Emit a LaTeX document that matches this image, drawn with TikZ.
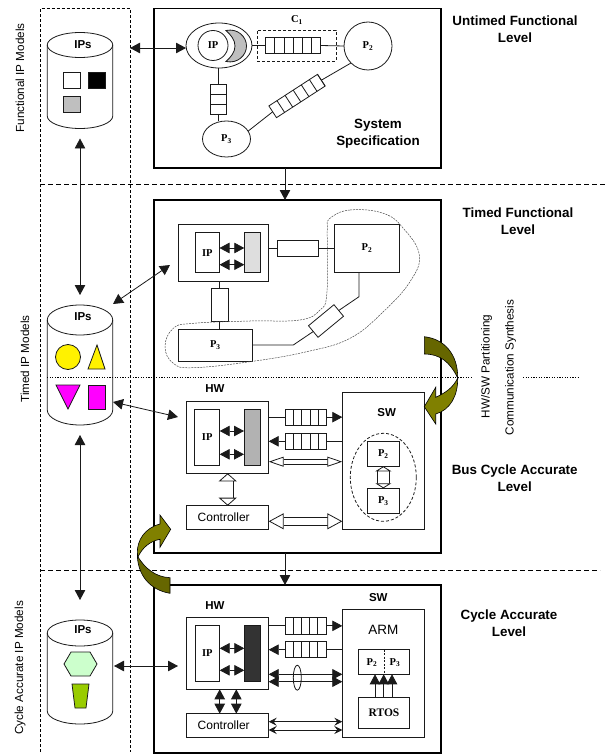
\documentclass[tikz,border=0pt]{standalone}
\usepackage{fontspec}
\setmainfont{Liberation Sans}
\newfontfamily\ipserif{Liberation Serif}
\usepackage{xcolor}
\usetikzlibrary{arrows.meta,positioning,fit,calc,shapes.geometric}
\definecolor{ink}{HTML}{1A1A1A}
\definecolor{oliveA}{HTML}{666600}
\definecolor{oliveB}{HTML}{808000}
\definecolor{hexgreen}{HTML}{CCFFCC}
\definecolor{trapgreen}{HTML}{99CC00}
\definecolor{mag}{HTML}{FF00FF}
\newcommand{\pname}[2]{{\ipserif\bfseries #1\textsubscript{#2}}}
% n-cell queue inside a node that already exists
\newcommand{\cells}[2]{\foreach \k in {1,...,#2}
  \draw[thinline] ($(#1.south west)!\k/#2!(#1.south east)$) -- ($(#1.north west)!\k/#2!(#1.north east)$);}
% library drum: name, top of body, bottom of body, half height of the ends
\newcommand{\drum}[4]{
  \node[thinline,shape=ellipse,inner sep=0pt,outer sep=0pt,minimum width=65.5pt,minimum height=#4*2pt] (#1) at (80,#2) {};
  \coordinate (#1base) at (80,#3+#4);
  \draw[thinline] (#1.west) -- (47.25,#3) arc[start angle=180,end angle=360,x radius=32.75pt,y radius=#4 pt] -- (#1.east);}
\tikzset{
  thinline/.style={draw=ink,line width=0.8pt},
  blk/.style={thinline,inner sep=0pt,outer sep=0pt},
  txt/.style={font=\ipserif\bfseries\fontsize{10.5}{12}\selectfont},
  lab/.style={label={[txt]center:#1}},
  ctl/.style={label={[font=\fontsize{12}{14}\selectfont,xshift=-4pt]center:#1}},
  level/.style={draw=black,line width=1.5pt,inner sep=0pt,outer sep=0pt},
  lbl/.style={font=\bfseries\fontsize{11.5}{14}\selectfont,align=center},
  lvlname/.style={font=\bfseries\fontsize{13.4}{16.7}\selectfont,align=center},
  vlbl/.style={font=\fontsize{11.7}{13}\selectfont,rotate=90},
  colline/.style={line width=0.8pt,dash pattern=on 3pt off 2pt},
  divline/.style={line width=0.7pt,dash pattern=on 5pt off 3pt},
  dotline/.style={line width=0.7pt,dash pattern=on 1.2pt off 1.4pt},
  hollow/.style={draw=ink,line width=0.8pt,double=white,double distance=#1},
  curl/.style={draw=black,line width=0.6pt},
}
\begin{document}
\begin{tikzpicture}[x=1pt,y=-1pt,>={Triangle[length=10pt,width=10.5pt]}]
  \useasboundingbox (0,0) rectangle (606,754);

  % IP model columns
  \draw[colline] (40,752) -- (40,8.5) -- (130,8.5) -- (130,752);
  \draw[divline] (40,184) -- (606,184);
  \draw[divline] (40,570) -- (600,570);

  % libraries
  \drum{ipsA}{45}{116}{12.5}
  \drum{ipsB}{320}{410}{15}
  \drum{ipsC}{633}{711}{13}
  \node[lbl] (ipsAt) at (83,45) {IPs};
  \node[lbl] (ipsBt) at (83,317) {IPs};
  \node[lbl] (ipsCt) at (83,630) {IPs};
  \draw[<->,thinline,shorten <=10pt,shorten >=10pt] (ipsAbase) -- (ipsB.north);
  \draw[<->,thinline,shorten <=10pt,shorten >=20pt] (ipsBbase) -- (ipsC.north);

  \node[blk,fit={(63.5,72) (80,88.5)}] (sqW) {};
  \node[blk,fill=black,fit={(88,72) (105,88.5)}] (sqK) {};
  \node[blk,fill=black!25,fit={(63.5,96) (80,112)}] (sqG) {};
  \node[blk,fill=yellow,shape=circle,minimum size=25pt] (cirY) at (68,357) {};
  \draw[thinline,fill=yellow] (97,345) -- (105,369) -- (88,369) -- cycle;
  \draw[thinline,fill=mag] (56,385) -- (80,385) -- (68,409) -- cycle;
  \node[blk,fill=mag,fit={(88,385) (105,409)}] (recM) {};
  \draw[thinline,fill=hexgreen] (64,664) -- (71,652) -- (90,652) -- (97,664) -- (90,676) -- (71,676) -- cycle;
  \draw[thinline,fill=trapgreen] (72,684) -- (89,684) -- (86,708) -- (75,708) -- cycle;

  % level boxes
  \node[level,fit={(154,8.5) (441,168)}] (lvlA) {};
  \node[level,fit={(154,200) (441,553)}] (lvlB) {};
  \node[level,fit={(154,585) (441,753)}] (lvlC) {};
  \draw[->,thinline] (lvlA.south -| 285,0) -- (lvlB.north -| 285,0);
  \draw[->,thinline] (lvlB.south -| 285,0) -- (lvlC.north -| 285,0);

  % system specification
  \node[thinline,shape=ellipse,inner sep=0pt,outer sep=0pt,minimum width=66pt,minimum height=45pt] (spIPo) at (219,45.5) {};
  \draw[thinline,fill=black!25] (226,30.5) .. controls (238,28) and (246.5,37) .. (246.5,46)
    .. controls (246.5,55) and (238,64) .. (226,61.5) .. controls (231,57) and (235,52) .. (235,46)
    .. controls (235,40) and (231,35) .. (226,30.5) -- cycle;
  \node[blk,shape=circle,fill=white,minimum size=30pt,lab=IP] (spIP) at (213,45.5) {};
  \node[blk,shape=circle,minimum size=48pt,lab={\pname{P}{2}}] (spP2) at (368,46) {};
  \node[blk,shape=ellipse,minimum width=48pt,minimum height=36pt,lab={\pname{P}{3}}] (spP3) at (226.5,139) {};
  \node[blk,minimum width=55pt,minimum height=15.5pt] (spQa) at (293.2,45.5) {};
  \cells{spQa}{6}
  \node[blk,rotate=90,minimum width=30pt,minimum height=16pt] (spQb) at (218,99) {};
  \cells{spQb}{3}
  \node[blk,rotate=33,minimum width=58pt,minimum height=14pt] (spQc) at (297,96) {};
  \cells{spQc}{6}
  \node[thinline,dash pattern=on 3pt off 2pt,inner sep=0pt,fit={(257,30) (336,61)}] (spC) {};
  \node[txt] (spCt) at (297,20) {C\textsubscript{1}};
  \draw[thinline] (spIPo.east) -- (spQa.west);
  \draw[thinline] (spQa.east) -- (spP2.west);
  \draw[thinline] (spIPo.south -| spQb.center) -- (spQb.east);
  \draw[thinline] (spQb.west) -- (spP3.north -| spQb.center);
  \draw[thinline] (spP2.225) -- (spQc.east);
  \draw[thinline] (spQc.west) -- (spP3.20);
  \node[lvlname] (spT) at (378,134) {System\\Specification};
  \coordinate (spFrom) at (130,48);
  \coordinate (spTo) at (186,48);
  \draw[<->,thinline] (spFrom) -- (spTo);

  % timed functional
  \node[blk,fit={(178.3,224) (268.7,281)}] (tfMod) {};
  \node[blk,lab=IP,fit={(195,232.7) (219.5,272.7)}] (tfIP) {};
  \node[blk,fill=black!13,fit={(244.3,232.7) (260.3,272.7)}] (tfReg) {};
  \draw[<->,thinline] (tfIP.east |- 0,248) -- (tfReg.west |- 0,248);
  \draw[<->,thinline] (tfIP.east |- 0,264.7) -- (tfReg.west |- 0,264.7);
  \node[blk,fit={(277,240.7) (318,256.7)}] (tfChA) {};
  \node[blk,lab={\pname{P}{2}},fit={(334.3,224) (399.7,272.7)}] (tfP2) {};
  \node[blk,lab={\pname{P}{3}},fit={(178.3,329) (252.3,361)}] (tfP3) {};
  \node[blk,fit={(211.3,288.7) (228,321)}] (tfChB) {};
  \node[blk,rotate=39.5,minimum width=33pt,minimum height=15pt] (tfChC) at (326,321) {};
  \draw[thinline] (tfMod.east |- tfChA.west) -- (tfChA.west);
  \draw[thinline] (tfChA.east) -- (tfP2.west |- tfChA.east);
  \draw[thinline] (tfMod.south -| tfChB.center) -- (tfChB.north);
  \draw[thinline] (tfChB.south) -- (tfP3.north -| tfChB.south);
  \coordinate (tfBendA) at (293.3,345);
  \coordinate (tfBendB) at (359,296.7);
  \draw[thinline] (tfP3.east) -- (tfBendA) -- (tfChC.west);
  \draw[thinline] (tfChC.east) -- (tfBendB) -- (tfBendB |- tfP2.south);
  \draw[line width=0.5pt,draw=black!70,dash pattern=on 2pt off 1pt] plot[smooth cycle,tension=0.7] coordinates {
    (330,218.3) (350,210) (383.3,213.3) (403.3,228.3) (419.3,255) (410,281.7) (383.3,311.7)
    (350,338.3) (306.7,351.7) (250,361.7) (193.3,367.7) (173.3,363.3) (165,346.7) (173.3,328.3)
    (193.3,323.3) (250,321) (300,320) (320,310) (326.7,295) (327.3,245) (327.3,228.3)};
  \coordinate (tfFrom) at (113,304);
  \coordinate (tfTo) at (170,265);
  \draw[<->,thinline] (tfFrom) -- (tfTo);

  % bus cycle accurate
  \node[lbl] (busHW) at (215,389) {HW};
  \node[blk,fit={(186.7,401) (268.7,473.3)}] (busMod) {};
  \node[blk,lab=IP,fit={(194.7,409) (219.7,465.7)}] (busIP) {};
  \node[blk,fill=black!30,fit={(244,409) (260.7,465.7)}] (busReg) {};
  \draw[<->,thinline] (busIP.east |- 0,431) -- (busReg.west |- 0,431);
  \draw[<->,thinline] (busIP.east |- 0,454.3) -- (busReg.west |- 0,454.3);
  \node[blk,fit={(342.3,392.7) (424.3,529.3)}] (busSW) {};
  \node[lbl] (busSWt) at (386.7,412.7) {SW};
  \node[blk,fit={(285,409) (326.7,425.3)}] (busQa) {};
  \cells{busQa}{5}
  \node[blk,fit={(285,433.3) (326.7,449.3)}] (busQb) {};
  \cells{busQb}{5}
  \draw[thinline] (busMod.east |- busQa.west) -- (busQa.west);
  \draw[->,thinline] (busQa.east) -- (busSW.west |- busQa.east);
  \draw[thinline] (busSW.west |- busQb.east) -- (busQb.east);
  \draw[->,thinline] (busQb.west) -- (busMod.east |- busQb.west);
  \node[thinline,dash pattern=on 3pt off 2pt,shape=ellipse,inner sep=0pt,minimum width=66pt,minimum height=88pt] (busGrp) at (383.3,477.3) {};
  \node[blk,lab={\pname{P}{2}},fit={(367,441.3) (399.7,466.3)}] (busP2) {};
  \node[blk,lab={\pname{P}{3}},fit={(367,488.3) (399.7,513.3)}] (busP3) {};
  \node[blk,ctl=Controller,fit={(186.7,505.7) (268.7,529.3)}] (busCtl) {};
  \draw[hollow=4pt,{Triangle[fill=white,line width=.8pt,length=15pt,width=10pt]}-{Triangle[fill=white,line width=.8pt,length=15pt,width=10pt]}]
    (busMod.east |- 0,461.7) -- (busSW.west |- 0,461.7);
  \draw[hollow=7pt,{Triangle[fill=white,line width=.8pt,length=15pt,width=16pt]}-{Triangle[fill=white,line width=.8pt,length=15pt,width=16pt]}]
    (busCtl.east |- 0,521.3) -- (busSW.west |- 0,521.3);
  \draw[hollow=10.5pt,{Triangle[fill=white,line width=.8pt,length=8pt,width=18pt]}-{Triangle[fill=white,line width=.8pt,length=8pt,width=18pt]}]
    (busMod.south -| 227.7,0) -- (busCtl.north -| 227.7,0);
  \draw[hollow=11.5pt,{Triangle[fill=white,line width=.8pt,length=5pt,width=16pt]}-{Triangle[fill=white,line width=.8pt,length=5pt,width=16pt]}]
    (busP2.south) -- (busP3.north);
  \coordinate (busFrom) at (113,402);
  \coordinate (busTo) at (178,417);
  \draw[<->,thinline] (busFrom) -- (busTo);

  % cycle accurate
  \node[lbl] (caHW) at (215,605.7) {HW};
  \node[blk,fit={(186.7,617.3) (268.7,689.3)}] (caMod) {};
  \node[blk,lab=IP,fit={(195,625.3) (219.7,681.7)}] (caIP) {};
  \node[blk,fill=black!80,fit={(244.3,625.3) (260.7,681.7)}] (caReg) {};
  \draw[<->,thinline] (caIP.east |- 0,648.3) -- (caReg.west |- 0,648.3);
  \draw[<->,thinline] (caIP.east |- 0,670.3) -- (caReg.west |- 0,670.3);
  \node[blk,fit={(342.3,609.3) (424.3,737.7)}] (caSW) {};
  \node[lbl] (caSWt) at (378.3,597.7) {SW};
  \node[font=\fontsize{13.5}{15}\selectfont] (caARM) at (383.3,630) {ARM};
  \node[blk,fit={(285,617.7) (326,634)}] (caQa) {};
  \cells{caQa}{5}
  \node[blk,fit={(285,641.7) (326,657.7)}] (caQb) {};
  \cells{caQb}{5}
  \draw[thinline] (caMod.east |- caQa.west) -- (caQa.west);
  \draw[->,thinline] (caQa.east) -- (caSW.west |- caQa.east);
  \draw[thinline] (caSW.west |- caQb.east) -- (caQb.east);
  \draw[->,thinline] (caQb.west) -- (caMod.east |- caQb.west);
  \node[blk,fit={(358.7,649.7) (409.3,674.3)}] (caPP) {};
  \draw[thinline,dash pattern=on 2pt off 1.5pt] (caPP.north) -- (caPP.south);
  \node[txt] (caP2) at (372,662.5) {\pname{P}{2}};
  \node[txt] (caP3) at (395,662.5) {\pname{P}{3}};
  \node[blk,label={[txt,font=\ipserif\bfseries\fontsize{11.5}{13}\selectfont]center:RTOS},fit={(358.7,697.7) (409.3,728)}] (caRTOS) {};
  \foreach \xx in {375,383.7,392}
    \draw[->,thinline] (caRTOS.north -| \xx,0) -- (caPP.south -| \xx,0);
  \node[blk,ctl=Controller,fit={(186.7,713.7) (268.7,737.7)}] (caCtl) {};
  \draw[<->,thinline] (caMod.east |- 0,674.3) -- (caSW.west |- 0,674.3);
  \draw[<->,thinline] (caMod.east |- 0,681.7) -- (caSW.west |- 0,681.7);
  \node[thinline,shape=ellipse,inner sep=0pt,minimum width=8pt,minimum height=25pt] (caBus) at (297.3,677.7) {};
  \draw[<->,thinline] (caMod.south -| 219.7,0) -- (caCtl.north -| 219.7,0);
  \draw[<->,thinline] (caMod.south -| 236.3,0) -- (caCtl.north -| 236.3,0);
  \draw[{Stealth[length=8pt,width=8pt,inset=3pt]}-{Stealth[length=8pt,width=8pt,inset=3pt]},thinline]
    (caCtl.east |- 0,721.7) -- (caSW.west |- 0,721.7);
  \draw[{Stealth[length=8pt,width=8pt,inset=3pt]}-{Stealth[length=8pt,width=8pt,inset=3pt]},thinline]
    (caCtl.east |- 0,730) -- (caSW.west |- 0,730);
  \coordinate (caFrom) at (114,666);
  \coordinate (caTo) at (178,666);
  \draw[<->,thinline] (caFrom) -- (caTo);

  % labels
  \node[lvlname] (tUF) at (515,29.5) {Untimed Functional\\Level};
  \node[lvlname] (tTF) at (518,221.5) {Timed Functional\\Level};
  \node[lvlname] (tBC) at (514.7,478.3) {Bus Cycle Accurate\\Level};
  \node[lvlname] (tCA) at (509,623.5) {Cycle Accurate\\Level};
  \node[vlbl] (vFn) at (20,78) {Functional IP Models};
  \node[vlbl] (vTm) at (25,359) {Timed IP Models};
  \node[vlbl] (vCa) at (20,668) {Cycle Accurate IP Models};
  \node[vlbl] (vHS) at (486.7,366.5) {HW/SW Partitioning};
  \node[vlbl] (vCS) at (510.7,367.5) {Communication Synthesis};

  \draw[dotline] (47,377.3) -- (472,377.3);
  \draw[dotline] (523,377.3) -- (578,377.3);

  % curved arrows
  \draw[curl,fill=oliveA] (424.3,336.7) .. controls (445,339) and (458,355) .. (457.7,378)
    .. controls (450,362) and (440,354) .. (424.3,354) -- cycle;
  \draw[curl,fill=oliveB] (457.7,378) .. controls (458,396) and (450,410) .. (435.7,414)
    -- (435.7,424) -- (424.3,406.7) -- (435.7,387.3) -- (435.7,397.3)
    .. controls (445,393) and (453,388) .. (457.7,378) -- cycle;
  \draw[curl,fill=oliveB] (137.3,553) .. controls (137,540) and (145,528) .. (160,524)
    -- (160,515) -- (170.7,529.3) -- (160,547.3) -- (160,539.3)
    .. controls (150,541) and (142,548) .. (138,557) -- cycle;
  \draw[curl,fill=oliveA] (137.3,553) .. controls (137,575) and (150,590) .. (170,593.3)
    -- (170,577.7) .. controls (155,577) and (145,568) .. (138,557) -- cycle;
\end{tikzpicture}
\end{document}
